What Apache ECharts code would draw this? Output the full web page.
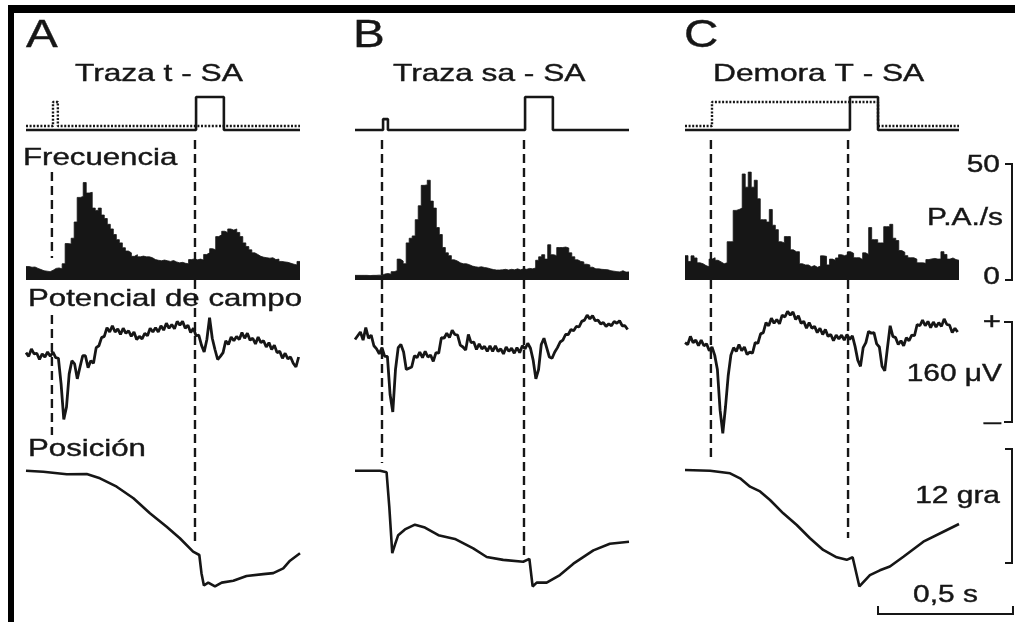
<!DOCTYPE html>
<html>
<head>
<meta charset="utf-8">
<script src="https://cdn.jsdelivr.net/npm/echarts@6/dist/echarts.min.js"></script>
<style>
  html, body { margin: 0; padding: 0; background: #fff; }
  #chart { width: 1015px; height: 622px; }
</style>
</head>
<body>
<div id="chart"></div>
<script>
// ---- datos ----
// tiempo en ms desde el inicio de cada registro (0 .. 1015 ms)

// estimulo: trazo continuo (SA) y punteado (t / T)
const stimSolidA = [[0, 0], [630, 0], [630, 1], [733, 1], [733, 0], [1015, 0]];
const stimDotA   = [[0, 0.12], [100, 0.12], [100, 0.85], [118, 0.85], [118, 0.12], [1015, 0.12]];
const stimSolidB = [[0, 0], [104, 0], [104, 0.33], [122, 0.33], [122, 0], [630, 0], [630, 1], [733, 1], [733, 0], [1015, 0]];
const stimSolidC = [[0, 0], [611, 0], [611, 1], [715, 1], [715, 0], [1015, 0]];
const stimDotC   = [[0, 0.12], [100, 0.12], [100, 0.85], [715, 0.85], [715, 0.12], [1015, 0.12]];

// frecuencia (P.A./s), 91 intervalos por registro
const histA = [5.8, 5.5, 5.6, 5.0, 4.5, 4.0, 3.8, 3.6, 4.2, 5.0,
  5.2, 4.8, 7.0, 15.7, 15.5, 18.0, 25.0, 35.6, 36.0, 42.0,
  37.5, 37.8, 31.0, 30.0, 31.0, 28.0, 26.5, 24.0, 22.0, 19.6,
  17.4, 16.0, 13.9, 12.5, 11.7, 10.2, 10.9, 10.0, 10.3, 10.0,
  10.0, 9.6, 8.8, 8.5, 8.3, 8.6, 8.3, 8.0, 8.4, 7.8,
  7.4, 7.6, 7.2, 7.0, 8.8, 9.1, 8.7, 9.0, 8.6, 11.0,
  11.7, 13.5, 13.0, 18.7, 19.5, 21.0, 20.5, 22.0, 21.5, 22.0,
  20.5, 18.7, 16.0, 14.4, 13.0, 11.7, 11.0, 10.2, 9.8, 9.6,
  9.4, 9.6, 8.8, 9.0, 8.0, 7.8, 7.6, 7.2, 6.8, 6.5, 8.0];
const histB = [2.0, 2.0, 2.0, 2.0, 1.9, 2.0, 2.0, 2.1, 2.0, 2.6,
  2.8, 2.5, 3.6, 4.0, 9.0, 8.2, 7.0, 16.0, 18.0, 19.0,
  26.0, 32.0, 40.8, 41.0, 43.0, 34.0, 31.0, 22.6, 19.6, 14.0,
  11.7, 10.5, 8.7, 8.2, 7.4, 7.0, 7.0, 6.6, 6.0, 5.7,
  5.5, 5.7, 5.4, 5.2, 4.8, 4.5, 4.3, 4.3, 4.4, 4.6,
  4.3, 4.6, 4.4, 4.8, 4.4, 4.8, 4.6, 5.0, 4.8, 5.2,
  8.5, 10.0, 10.9, 9.0, 15.2, 10.9, 10.5, 14.0, 14.0, 14.2,
  13.8, 11.7, 10.0, 8.7, 8.0, 7.8, 6.8, 6.5, 5.5, 4.8,
  4.8, 4.6, 4.5, 4.4, 4.0, 3.8, 3.6, 3.5, 4.0, 3.4, 3.5];
const histC = [10.5, 8.0, 10.4, 9.5, 7.4, 7.0, 6.2, 5.7, 9.0, 9.6,
  8.5, 7.8, 7.0, 7.4, 16.5, 16.5, 30.0, 30.4, 31.0, 45.7,
  40.0, 46.5, 40.0, 43.0, 35.0, 26.0, 26.0, 25.0, 30.4, 23.6,
  21.7, 16.5, 16.0, 18.7, 18.7, 13.0, 12.2, 12.2, 7.0, 6.5,
  6.5, 5.7, 6.2, 5.5, 6.0, 10.4, 10.2, 6.5, 9.0, 8.5,
  9.5, 10.9, 10.5, 10.9, 12.2, 11.5, 9.6, 9.6, 8.8, 11.7,
  11.0, 22.6, 17.4, 17.4, 16.0, 16.0, 23.0, 23.0, 24.0, 18.0,
  17.0, 12.7, 12.0, 10.5, 9.6, 9.6, 9.0, 7.4, 7.4, 7.2,
  8.8, 9.1, 9.3, 9.0, 9.1, 12.2, 11.0, 9.0, 9.5, 8.8, 8.5];

// potencial de campo (uV), una muestra cada 10 ms
const fieldA = [7, 1, 13, 5, 6, -4, 5, 0, 8, 1,
  8, -1, -2, -43, -100, -80, -27, -6, -11, -35,
  -16, 2, 2, -17, -6, -10, 15, 18, 31, 33,
  47, 40, 50, 40, 45, 36, 46, 38, 42, 33,
  40, 28, 33, 29, 38, 34, 46, 40, 47, 40,
  50, 43, 54, 46, 52, 45, 57, 51, 57, 46,
  51, 39, 46, 34, 35, 19, 8, 28, 63, 30,
  12, -4, 1, 7, 26, 20, 32, 26, 33, 28,
  39, 30, 38, 27, 30, 21, 32, 23, 26, 16,
  23, 12, 19, 7, 9, -2, 6, -3, 0, -10,
  -16, 0];
const fieldB = [28, 34, 40, 27, 47, 30, 35, 18, 13, 5,
  15, 1, 1, -60, -88, -20, 15, 20, 8, -20,
  -18, -16, 2, -1, 8, -1, 9, 0, 3, -7,
  7, 6, 31, 30, 38, 31, 43, 36, 35, 19,
  16, 11, 36, 23, 24, 12, 21, 13, 17, 9,
  18, 9, 18, 9, 13, 5, 16, 9, 14, 6,
  15, 7, 18, 13, 22, 14, -5, -35, -20, 20,
  30, 15, 0, -2, 8, 15, 24, 27, 36, 36,
  44, 42, 49, 48, 57, 59, 67, 61, 66, 58,
  59, 53, 55, 49, 53, 50, 57, 54, 58, 50,
  50, 44];
const fieldC = [23, 20, 33, 23, 27, 18, 27, 18, 21, 10,
  16, 3, -20, -85, -122, -80, -30, 3, 15, 9,
  20, 10, 16, 4, 8, 6, 23, 22, 37, 39,
  55, 50, 62, 54, 60, 53, 67, 64, 73, 67,
  72, 60, 66, 54, 57, 46, 55, 46, 49, 39,
  46, 36, 44, 33, 36, 26, 35, 29, 35, 27,
  36, 28, 34, 17, -5, -15, 15, 23, 41, 38,
  39, 21, 16, -15, -22, 15, 50, 33, 31, 20,
  26, 18, 31, 26, 35, 34, 52, 50, 59, 50,
  57, 47, 56, 48, 55, 49, 61, 52, 51, 39,
  46, 40];

// posicion (grados): [ms, grados]
const posA = [[0, 0.08], [64, -0.02], [151, -0.29], [225, -0.26], [274, -0.72], [336, -1.6], [398, -2.82],
  [459, -4.4], [521, -5.81], [570, -7.03], [619, -8.44], [642, -8.79], [650, -10.7], [659, -12.0],
  [675, -11.7], [700, -12.1], [725, -11.7], [768, -11.5], [817, -11.0], [879, -10.8], [916, -10.7],
  [953, -10.2], [978, -9.39], [1015, -8.61]];
const posB = [[0, 0.08], [93, 0.08], [117, -0.09], [127, -3.7], [138, -8.6], [148, -7.7], [160, -6.7],
  [185, -6.1], [222, -5.6], [259, -5.9], [309, -6.7], [370, -7.1], [438, -8.1], [488, -9.0],
  [549, -9.3], [623, -9.5], [646, -9.2], [658, -12.1], [673, -11.7], [710, -11.7], [759, -10.9],
  [809, -9.7], [883, -8.3], [944, -7.6], [1015, -7.4]];
const posC = [[0, 0.16], [93, 0.08], [167, -0.19], [204, -0.72], [241, -1.6], [278, -2.1], [315, -3.0],
  [364, -4.4], [414, -5.63], [463, -7.03], [512, -8.26], [562, -9.03], [599, -9.3], [621, -9.03],
  [646, -12.1], [685, -10.9], [722, -10.4], [759, -10.0], [809, -8.97], [883, -7.39], [957, -6.34],
  [1015, -5.53]];

// lineas de referencia (ms)
const eventsA = [96, 626];
const eventsB = [100, 626];
const eventsC = [96, 604];

// barras de escala
const histScale = [0, 50];      // P.A./s
const fieldScale = [-104, 56];  // 160 uV
const posScale = [-9.63, 2.37]; // 12 gra
const timeScale = [715, 1215];  // 0,5 s

// ---- grafico ----
const INK = '#161616';
const FONT = '"Liberation Sans", Arial, sans-serif';
const T_MAX = 1015;
const BIN_MS = T_MAX / 91;
const FIELD_STEP = 10;
const colLeft = [26, 355, 685];
const colW = 274;

const chart = echarts.init(document.getElementById('chart'));

const grids = [], xAxes = [], yAxes = [], series = [];
function addGrid(left, top, height, yOpt) {
  const i = grids.length;
  grids.push({ left: left, top: top, width: colW, height: height });
  xAxes.push({ type: 'value', gridIndex: i, min: 0, max: T_MAX, show: false });
  yAxes.push(Object.assign({ type: 'value', gridIndex: i, show: false }, yOpt));
  return i;
}
function trace(g, data, width, dash, extra) {
  series.push(Object.assign({
    type: 'line', xAxisIndex: g, yAxisIndex: g, data: data,
    symbol: 'none', clip: false, silent: true, z: 4,
    lineStyle: { color: INK, width: width, type: dash || 'solid' }
  }, extra || {}));
}
function histPoints(vals) {
  const pts = vals.map((v, i) => [i * BIN_MS, v]);
  pts.push([vals.length * BIN_MS, vals[vals.length - 1]]);
  return pts;
}

const columns = [
  { stim: [stimSolidA], dots: [stimDotA], hist: histA, field: fieldA, pos: posA, ev: eventsA,
    spans: [[[172, 258], [315, 435]], [[140, 543]]] },
  { stim: [stimSolidB], dots: [], hist: histB, field: fieldB, pos: posB, ev: eventsB,
    spans: [[[140, 463]], [[140, 557]]] },
  { stim: [stimSolidC], dots: [stimDotC], hist: histC, field: fieldC, pos: posC, ev: eventsC,
    spans: [[[140, 458]], [[140, 538]]] }
];

const idx = [];
columns.forEach((col, c) => {
  const left = colLeft[c];
  const gS = addGrid(left, 97, 33, { min: 0, max: 1 });
  const gH = addGrid(left, 164, 116, { min: 0, max: 50 });
  const gF = addGrid(left, 297, 160, { min: -160, max: 96 });
  const gP = addGrid(left, 443, 152, { min: -13, max: 3 });
  const gO = addGrid(left, 0, 622, { min: 0, max: 622, inverse: true });
  idx.push({ gS, gH, gF, gP, gO });

  col.dots.forEach(d => trace(gS, d, 2.4, [2, 1.6]));
  col.stim.forEach(d => trace(gS, d, 2.6));

  trace(gH, histPoints(col.hist), 0.8, null, {
    step: 'end', clip: true, z: 3,
    areaStyle: { color: INK, opacity: 1 }
  });

  trace(gF, col.field.map((v, i) => [i * FIELD_STEP, v]), 2.8, null, { clip: true });
  trace(gP, col.pos, 2.6, null, { clip: true });

  col.ev.forEach((t, k) => {
    col.spans[k].forEach(s => {
      trace(gO, [[t, s[0]], [t, s[1]]], 2.4, [9, 5], { z: 2 });
    });
  });
});

chart.setOption({
  animation: false,
  backgroundColor: '#ffffff',
  grid: grids,
  xAxis: xAxes,
  yAxis: yAxes,
  series: series
});

// ---- textos y barras de escala ----
function label(text, x, y, size, align, sx) {
  return {
    type: 'text', x: x, y: y, scaleX: sx || 1.3, z: 10, silent: true,
    style: {
      text: text, font: size + 'px ' + FONT, fill: INK,
      stroke: INK, lineWidth: 0.4,
      align: align || 'left', verticalAlign: 'middle',
      textAlign: align || 'left', textVerticalAlign: 'middle'
    }
  };
}
function bracket(points) {
  return {
    type: 'polyline', z: 10, silent: true,
    shape: { points: points },
    style: { stroke: INK, lineWidth: 2, fill: null }
  };
}
const toPx = (g, p) => chart.convertToPixel({ gridIndex: g }, p);
const cC = idx[2];
const hTop = toPx(cC.gH, [0, histScale[1]])[1];
const hBot = toPx(cC.gH, [0, histScale[0]])[1];
const fTop = toPx(cC.gF, [0, fieldScale[1]])[1];
const fBot = toPx(cC.gF, [0, fieldScale[0]])[1];
const pTop = toPx(cC.gP, [0, posScale[1]])[1];
const pBot = toPx(cC.gP, [0, posScale[0]])[1];
const tL = toPx(cC.gP, [timeScale[0], 0])[0];
const tR = toPx(cC.gP, [timeScale[1], 0])[0];
const BX = 1012;

chart.setOption({
  graphic: [
    { type: 'rect', z: 20, silent: true, shape: { x: 8, y: 5, width: 1007, height: 8 }, style: { fill: '#000' } },
    { type: 'rect', z: 20, silent: true, shape: { x: 8, y: 5, width: 6, height: 617 }, style: { fill: '#000' } },
    label('A', 26, 36, 39, 'left', 1.22),
    label('B', 353, 36, 39, 'left', 1.22),
    label('C', 684, 36, 39, 'left', 1.22),
    label('Traza t - SA', 75, 74.5, 24, 'left', 1.32),
    label('Traza sa - SA', 393, 74.5, 24, 'left', 1.32),
    label('Demora T - SA', 713, 74.5, 24, 'left', 1.32),
    label('Frecuencia', 23, 158, 24),
    label('Potencial de campo', 28, 299, 24),
    label('Posición', 28, 449, 24),
    label('50', 1000, hTop + 2, 23, 'right'),
    label('P.A./s', 1003, 219, 23, 'right'),
    label('0', 1000, hBot - 2, 23, 'right'),
    label('+', 1001, fTop, 24, 'right'),
    label('160 \u03bcV', 1002, 375, 23, 'right'),
    label('\u2013', 1001, fBot, 24, 'right'),
    label('12 gra', 1000, 497, 23, 'right'),
    label('0,5 s', (tL + tR) / 2, 596, 23, 'center'),
    bracket([[1005, hTop], [BX, hTop], [BX, hBot], [1005, hBot]]),
    bracket([[1004, fTop], [BX, fTop], [BX, fBot], [1004, fBot]]),
    bracket([[1005, pTop], [BX, pTop], [BX, pBot], [1005, pBot]]),
    bracket([[tL, 606], [tL, 614], [tR, 614], [tR, 606]])
  ]
});
</script>
</body>
</html>
